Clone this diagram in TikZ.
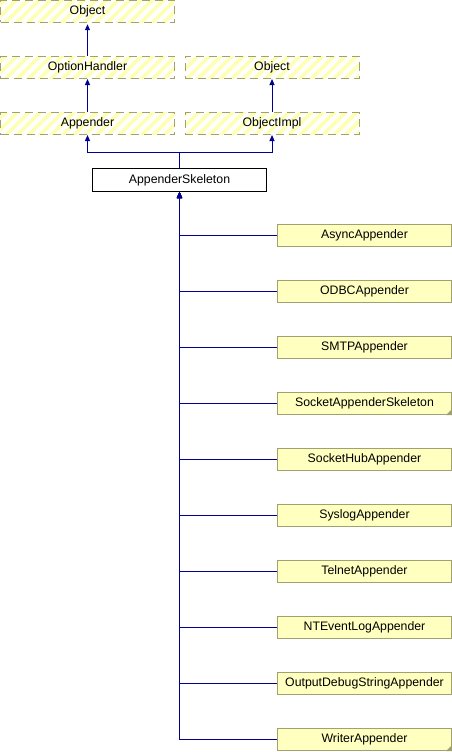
\documentclass[tikz,border=0pt]{standalone}
\usepackage{fontspec}
\setmainfont{Liberation Sans}
\usepackage{xcolor}
\usepackage{tikz}
\usetikzlibrary{arrows.meta,patterns.meta,calc}

\definecolor{linkblue}{RGB}{0,0,145}
\definecolor{notefill}{RGB}{255,255,192}
\definecolor{noteedge}{RGB}{160,160,112}
\definecolor{hatch}{RGB}{255,255,176}

\tikzset{
	inh/.style={draw=linkblue,line width=1pt,-{Triangle[length=6pt,width=5pt,fill=linkblue]}},
	ext/.style={draw=noteedge,dash pattern=on 8pt off 5pt,line width=1pt,
		pattern={Lines[angle=45,distance=8pt,line width=3.5pt]},pattern color=hatch,
		minimum width=174pt,minimum height=22pt,inner sep=0pt,
		font=\fontsize{12.3}{14}\selectfont},
	cls/.style={draw=noteedge,fill=notefill,line width=1pt,
		minimum width=174pt,minimum height=22pt,inner sep=0pt,
		font=\fontsize{12.3}{14}\selectfont},
	base/.style={draw=black,fill=white,line width=1pt,
		minimum width=174pt,minimum height=23pt,inner sep=0pt,
		font=\fontsize{12.3}{14}\selectfont}
}

\begin{document}
\begin{tikzpicture}[x=1pt,y=-1pt]
	\useasboundingbox (0,0) rectangle (452,752);

	\node[ext] (obj) at (87.5,11.5) {Object};
	\node[ext] (opth) at (87.5,67.5) {OptionHandler};
	\node[ext] (objb) at (272,67.5) {Object};
	\node[ext] (app) at (87.5,123.5) {Appender};
	\node[ext] (impl) at (272,123.5) {ObjectImpl};
	\node[base] (skel) at (179.5,180) {AppenderSkeleton};

	\foreach \name/\i in {AsyncAppender/0,ODBCAppender/1,SMTPAppender/2,
		SocketAppenderSkeleton/3,SocketHubAppender/4,SyslogAppender/5,
		TelnetAppender/6,NTEventLogAppender/7,OutputDebugStringAppender/8,
		WriterAppender/9}
		\node[cls] (c\i) at (364.5,{235.5+56*\i}) {\name};
	\foreach \i in {3,9}
		\fill[noteedge] (c\i.south east) -- ++(-6,0) -- ++(6,-6) -- cycle;

	\draw[inh] (opth.north) -- (obj.south);
	\draw[inh] (app.north) -- (opth.south);
	\draw[inh] (impl.north) -- (objb.south);
	\coordinate (fork) at (179.5,152.5);
	\draw[inh] (skel.north) -- (fork) -| (app.south);
	\draw[inh] (fork) -| (impl.south);
	\foreach \i in {0,...,9}
		\draw[inh] (c\i.west) -| (skel.south);
\end{tikzpicture}
\end{document}
